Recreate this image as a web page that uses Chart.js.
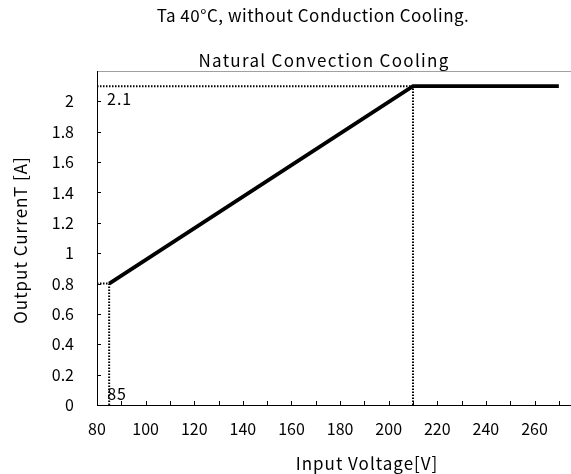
<!DOCTYPE html>
<html>
<head>
<meta charset="utf-8">
<script src="https://cdn.jsdelivr.net/npm/chart.js@4"></script>
<style>
    html, body { margin: 0; padding: 0; background: #fff; }
    #wrap { width: 571px; height: 474px; }
</style>
</head>
<body>
<div id="wrap"><canvas id="deratingChart"></canvas></div>
<script>
// derating curve
const inputVoltage = [85, 210, 270];
const outputCurrent = [0.8, 2.1, 2.1];

// dotted guide lines
const guideTopX = [80, 210];
const guideTopY = [2.1, 2.1];
const guide210X = [210, 210];
const guide210Y = [0, 2.1];
const guide85X = [85, 85];
const guide85Y = [0, 0.8];
const guideLowX = [80, 85];
const guideLowY = [0.8, 0.8];

// axes
const xTickLabels = [80, 100, 120, 140, 160, 180, 200, 220, 240, 260];
const xTickMarks = [90, 100, 110, 120, 130, 140, 150, 160, 170, 180, 190, 200, 210, 220, 230, 240, 250, 260, 270];
const yTickLabels = [0, 0.2, 0.4, 0.6, 0.8, 1, 1.2, 1.4, 1.6, 1.8, 2];

const FONT = '"Noto Sans CJK KR", "Noto Sans", sans-serif';

function toPoints(xs, ys) {
    return xs.map((x, i) => ({ x: x, y: ys[i] }));
}

function guide(xs, ys) {
    return {
        data: toPoints(xs, ys),
        borderColor: '#000',
        borderWidth: 2,
        borderDash: [1.5, 1.5],
        pointRadius: 0,
        fill: false
    };
}

const extraDraw = {
    id: 'extraDraw',
    afterDatasetsDraw(chart) {
        const ctx = chart.ctx;
        const xs = chart.scales.x;
        const ys = chart.scales.y;
        const area = chart.chartArea;

        ctx.save();
        ctx.strokeStyle = '#000';
        ctx.lineWidth = 1;
        ctx.beginPath();
        xTickMarks.forEach(v => {
            const px = Math.round(xs.getPixelForValue(v)) + 0.5;
            ctx.moveTo(px, area.bottom);
            ctx.lineTo(px, area.bottom - 4);
        });
        yTickLabels.slice(1).forEach(v => {
            const py = Math.round(ys.getPixelForValue(v)) + 0.5;
            ctx.moveTo(area.left, py);
            ctx.lineTo(area.left + 4, py);
        });
        ctx.stroke();

        ctx.fillStyle = '#000';
        ctx.font = '16px ' + FONT;
        ctx.textBaseline = 'middle';
        ctx.textAlign = 'left';
        ctx.letterSpacing = '1px';
        ctx.fillText('2.1', xs.getPixelForValue(80) + 10, ys.getPixelForValue(2.1) + 13);
        ctx.fillText('85', xs.getPixelForValue(85) - 2, ys.getPixelForValue(0) - 11);

        ctx.font = '17px ' + FONT;
        ctx.textAlign = 'center';
        ctx.letterSpacing = '0.5px';
        ctx.fillText('Ta 40\u00B0C, without Conduction Cooling.', 313, 16);
        ctx.letterSpacing = '1.3px';
        ctx.fillText('Natural Convection Cooling', 324, 61);
        ctx.letterSpacing = '1px';
        ctx.fillText('Input Voltage[V]', 367, 464);

        ctx.translate(21, 240);
        ctx.rotate(-Math.PI / 2);
        ctx.fillText('Output CurrenT [A]', 0, 0);
        ctx.restore();
    }
};

new Chart(document.getElementById('deratingChart'), {
    type: 'line',
    data: {
        datasets: [
            {
                data: toPoints(inputVoltage, outputCurrent),
                borderColor: '#000',
                borderWidth: 3.8,
                pointRadius: 0,
                fill: false,
                tension: 0
            },
            guide(guideTopX, guideTopY),
            guide(guide210X, guide210Y),
            guide(guide85X, guide85Y),
            guide(guideLowX, guideLowY)
        ]
    },
    options: {
        responsive: true,
        maintainAspectRatio: false,
        animation: false,
        layout: { padding: { top: 71, left: 0, right: 0, bottom: 0 } },
        plugins: {
            legend: { display: false },
            tooltip: { enabled: false }
        },
        scales: {
            x: {
                type: 'linear',
                min: 80,
                max: 275,
                afterBuildTicks: scale => { scale.ticks = xTickLabels.map(v => ({ value: v })); },
                afterFit: scale => { scale.height = 69; },
                grid: { display: false },
                border: { display: true, color: '#000', width: 1 },
                ticks: {
                    color: '#000',
                    padding: 6,
                    maxRotation: 0,
                    font: { family: FONT, size: 16 }
                }
            },
            x2: {
                type: 'linear',
                position: 'top',
                min: 80,
                max: 275,
                afterFit: scale => { scale.height = 0; },
                grid: { display: false },
                border: { display: true, color: '#a0a0a0', width: 1 },
                ticks: { display: false }
            },
            y: {
                type: 'linear',
                min: 0,
                max: 2.2,
                afterBuildTicks: scale => { scale.ticks = yTickLabels.map(v => ({ value: v })); },
                afterFit: scale => { scale.width = 97; },
                grid: { display: false },
                border: { display: true, color: '#000', width: 1 },
                ticks: {
                    color: '#000',
                    padding: 15,
                    font: { family: FONT, size: 16 },
                    callback: v => String(v)
                }
            }
        }
    },
    plugins: [extraDraw]
});
</script>
</body>
</html>
